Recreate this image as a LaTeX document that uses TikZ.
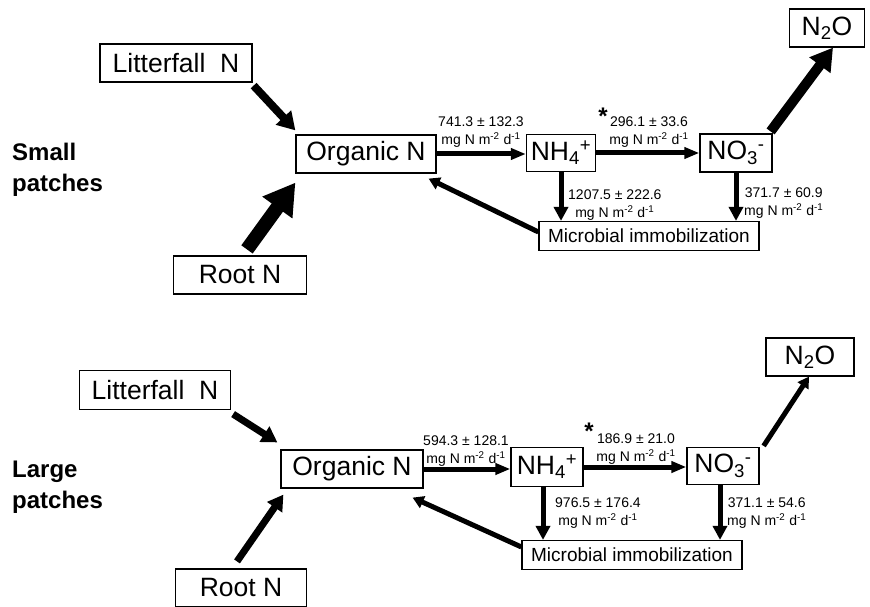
\documentclass[tikz,border=0pt]{standalone}
\usepackage{fontspec}
\setmainfont{Liberation Sans}
\usetikzlibrary{arrows.meta}

\tikzset{
  box/.style={draw, line width=1.2pt, inner sep=0pt, minimum height=38pt,
    font=\fontsize{26.5}{30}\selectfont},
  micro/.style={draw, line width=1.2pt, inner sep=0pt, minimum width=220pt,
    minimum height=29pt, font=\fontsize{19}{22}\selectfont},
  patch/.style={anchor=west, align=left, inner sep=0pt,
    font=\fontsize{24}{31}\selectfont\bfseries},
  rate/.style={align=center, inner sep=0pt, font=\fontsize{14}{18.5}\selectfont},
  signif/.style={inner sep=0pt, font=\fontsize{24}{24}\selectfont\bfseries},
  flow/.style={line width=#1, -{Triangle[length=0pt 2.2, width=0pt 2.5]}},
  slim/.style={line width=5pt, -{Triangle[length=15pt, width=11pt]}},
  down/.style={line width=5pt, -{Triangle[length=14pt, width=14pt]}}
}
\newcommand{\unitsN}{mg N m\textsuperscript{-2} d\textsuperscript{-1}}

\begin{document}
\begin{tikzpicture}[x=1pt,y=-1pt]
  \useasboundingbox (0,0) rectangle (870,607);
  % small patches
  \node[patch] (lab1) at (12,170) {Small\\patches};
  \node[box, minimum width=152pt] (lit1) at (176,63) {Litterfall~~N};
  \node[box, minimum width=140pt] (org1) at (366,154) {Organic N};
  \node[box, minimum width=133pt] (root1) at (240,275) {Root N};
  \node[box, minimum width=69pt, minimum height=37pt] (nh1) at (561,153) {NH\textsubscript{4}\textsuperscript{+}};
  \node[box, minimum width=72pt] (no1) at (736,153) {NO\textsubscript{3}\textsuperscript{-}};
  \node[box, minimum width=75pt] (ntwo1) at (827,28) {N\textsubscript{2}O};
  \node[micro] (mic1) at (649,236) {Microbial immobilization};
  \node[rate] (r11) at (481,132) {741.3 ± 132.3\\\unitsN};
  \node[rate] (r12) at (649,132) {296.1 ± 33.6\\\unitsN};
  \node[signif] (s1) at (603,116) {*};
  \node[rate, anchor=west] (r13) at (568,205) {1207.5 ± 222.6\\\unitsN};
  \node[rate, anchor=west] (r14) at (744,203) {371.7 ± 60.9\\\unitsN};
  \draw[flow=8pt] ([xshift=1pt,yshift=-3pt]lit1.south east) -- ([yshift=4pt]org1.north west);
  \draw[flow=14pt] ([xshift=7pt,yshift=6pt]root1.north) -- ([yshift=-9pt]org1.south west);
  \draw[slim] (org1.east) -- (org1.east -| nh1.west);
  \draw[slim] (nh1.east) -- (nh1.east -| no1.west);
  \draw[down] (nh1.south) -- (nh1.south |- mic1.north);
  \draw[down] (no1.south) -- (no1.south |- mic1.north);
  \draw[flow=5pt] ([yshift=4pt]mic1.west) -- ([xshift=-8pt,yshift=-5pt]org1.south east);
  \draw[flow=10pt] ([xshift=-2pt,yshift=2pt]no1.north east) -- ([xshift=6pt]ntwo1.south);
  % large patches
  \node[patch] (lab2) at (12,487) {Large\\patches};
  \node[box, minimum width=151pt, minimum height=39pt] (lit2) at (155,390) {Litterfall~~N};
  \node[box, minimum width=142pt] (org2) at (352,469) {Organic N};
  \node[box, minimum width=131pt] (root2) at (241,588) {Root N};
  \node[box, minimum width=72pt, minimum height=39pt] (nh2) at (547,467) {NH\textsubscript{4}\textsuperscript{+}};
  \node[box, minimum width=72pt, minimum height=37pt] (no2) at (723,466) {NO\textsubscript{3}\textsuperscript{-}};
  \node[box, minimum width=88pt] (ntwo2) at (810,357) {N\textsubscript{2}O};
  \node[micro] (mic2) at (632,555) {Microbial immobilization};
  \node[rate] (r21) at (466,451) {594.3 ± 128.1\\\unitsN};
  \node[rate] (r22) at (636,449) {186.9 ± 21.0\\\unitsN};
  \node[signif] (s2) at (589,431) {*};
  \node[rate, anchor=west] (r23) at (555,513) {976.5 ± 176.4\\\unitsN};
  \node[rate, anchor=west] (r24) at (727,513) {371.1 ± 54.6\\\unitsN};
  \draw[flow=7pt] ([xshift=2pt,yshift=-4pt]lit2.south east) -- ([xshift=-3pt,yshift=7pt]org2.north west);
  \draw[flow=7pt] ([xshift=-4pt,yshift=7pt]root2.north) -- ([xshift=3pt,yshift=-6pt]org2.south west);
  \draw[slim] (org2.east) -- (org2.east -| nh2.west);
  \draw[slim] (nh2.east) -- (nh2.east -| no2.west);
  \draw[down] ([xshift=-4pt]nh2.south) -- ([xshift=-4pt]nh2.south |- mic2.north);
  \draw[down] ([xshift=-3pt]no2.south) -- ([xshift=-3pt]no2.south |- mic2.north);
  \draw[flow=5pt] ([yshift=8pt]mic2.west) -- ([xshift=-11pt,yshift=-9pt]org2.south east);
  \draw[flow=5pt] ([xshift=4pt,yshift=1pt]no2.north east) -- ([xshift=-1pt]ntwo2.south);
\end{tikzpicture}
\end{document}
